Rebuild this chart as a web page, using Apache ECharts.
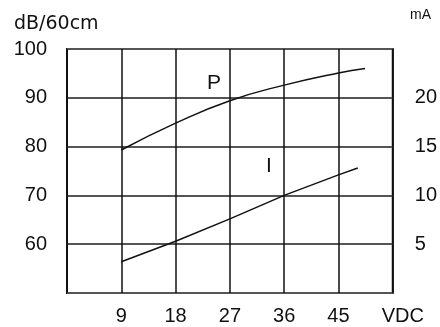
<!DOCTYPE html>
<html>
<head>
<meta charset="utf-8">
<script src="https://cdn.jsdelivr.net/npm/echarts@6/dist/echarts.min.js"></script>
<style>
  html, body { margin: 0; padding: 0; background: #fff; }
  #chart { width: 440px; height: 327px; }
</style>
</head>
<body>
<div id="chart"></div>
<script>
// supply voltage (VDC)
const voltsP = [9, 18, 27, 36, 45, 49.4];
const soundLevel = [79.3, 84.8, 89.4, 92.6, 95.1, 96.0]; // dB/60cm
const voltsI = [9, 18, 27, 36, 45, 48.2];
const current = [3.2, 5.3, 7.6, 10.0, 12.1, 12.8]; // mA

const xTicks = [9, 18, 27, 36, 45];
const dbTicks = [60, 70, 80, 90, 100];
const maTicks = [5, 10, 15, 20];

const font = 'Liberation Sans';
const chart = echarts.init(document.getElementById('chart'));

chart.setOption({
  animation: false,
  grid: {
    left: 67, right: 47, top: 49, bottom: 34,
    show: true, borderColor: '#111', borderWidth: 2
  },
  xAxis: {
    type: 'value', min: 0, max: 54, interval: 9,
    axisLine: { show: false },
    axisTick: { show: false },
    splitLine: { lineStyle: { color: '#111', width: 1.5 } },
    axisLabel: {
      margin: 13, color: '#111', fontFamily: font, fontSize: 20,
      showMaxLabel: true,
      formatter: v => v === 54 ? '{u|VDC}' : (xTicks.includes(v) ? String(v) : ''),
      rich: { u: { fontFamily: font, fontSize: 20, color: '#111', padding: [0, 0, 0, 20] } }
    }
  },
  yAxis: [{
    type: 'value', min: 50, max: 100, interval: 10,
    axisLine: { show: false },
    axisTick: { show: false },
    splitLine: { lineStyle: { color: '#555', width: 2 } },
    axisLabel: {
      margin: 20, color: '#111', fontFamily: font, fontSize: 20,
      formatter: v => dbTicks.includes(v) ? String(v) : ''
    }
  }, {
    type: 'value', min: 0, max: 25, interval: 5, position: 'right',
    axisLine: { show: false },
    axisTick: { show: false },
    splitLine: { show: false },
    axisLabel: {
      margin: 22, color: '#111', fontFamily: font, fontSize: 20,
      formatter: v => maTicks.includes(v) ? String(v) : ''
    }
  }],
  series: [{
    name: 'P', type: 'line', yAxisIndex: 0, smooth: true, symbol: 'none',
    lineStyle: { color: '#111', width: 1.5 },
    data: voltsP.map((v, i) => [v, soundLevel[i]])
  }, {
    name: 'I', type: 'line', yAxisIndex: 1, symbol: 'none',
    lineStyle: { color: '#111', width: 1.5 },
    data: voltsI.map((v, i) => [v, current[i]])
  }],
  graphic: [
    { type: 'text', left: 14, top: 15,
      style: { text: 'dB/60cm', fontFamily: 'DejaVu Sans', fontSize: 19, fill: '#111' } },
    { type: 'text', left: 410, top: 8,
      style: { text: 'mA', fontFamily: font, fontSize: 14, fill: '#111' } },
    { type: 'text', left: 207, top: 73,
      style: { text: 'P', fontFamily: font, fontSize: 21, fill: '#111' } },
    { type: 'text', left: 266, top: 156,
      style: { text: 'I', fontFamily: font, fontSize: 21, fill: '#111' } }
  ]
});
</script>
</body>
</html>
